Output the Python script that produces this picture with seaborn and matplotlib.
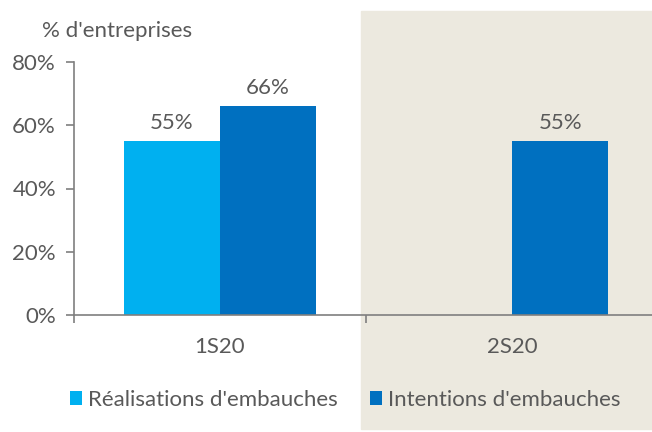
import numpy as np
import pandas as pd
import matplotlib
matplotlib.use("Agg")
import matplotlib.pyplot as plt
import seaborn as sns
from matplotlib.patches import Rectangle

categories = ["1S20", "2S20"]
realisations = [55, np.nan]
intentions = [66, 55]
series_names = ["Réalisations d'embauches", "Intentions d'embauches"]
yticks = [0, 20, 40, 60, 80]

sns.set_style("white")
plt.rcParams['font.family'] = ['Lato', 'DejaVu Sans']

df = pd.DataFrame({
    "cat": categories * 2,
    "serie": [series_names[0]] * 2 + [series_names[1]] * 2,
    "val": realisations + intentions,
})

W, H = 652, 432
FS = 16
fig = plt.figure(figsize=(W / 100, H / 100), dpi=100)
fig.patches.append(Rectangle((361 / W, 3 / H), 1 - 361 / W, 1 - 14 / H,
                             transform=fig.transFigure, color="#ECE9DF", zorder=-10))
ax = fig.add_axes([74 / W, 1 - 315 / H, 584 / W, 253 / H])
ax.patch.set_alpha(0)

grey = "#595959"
sns.barplot(data=df, x="cat", y="val", hue="serie", hue_order=series_names,
            palette=["#00B0F0", "#0070C0"], width=0.66, ax=ax, saturation=1,
            edgecolor="none")

for cont in ax.containers:
    labels = ["" if np.isnan(v) else f"{v:.0f}%" for v in cont.datavalues]
    ax.bar_label(cont, labels=labels, padding=6, color=grey, fontsize=FS)

ax.set_xlim(-0.5, 1.5)
ax.set_ylim(0, 80)
ax.set_yticks(yticks)
ax.set_yticklabels([f"{t}%" for t in yticks])
ax.set_xlabel("")
ax.set_ylabel("")
for s in ["top", "right"]:
    ax.spines[s].set_visible(False)
for s in ["left", "bottom"]:
    ax.spines[s].set_color("#7F7F7F")
    ax.spines[s].set_linewidth(1.2)
ax.tick_params(axis="y", left=True, length=6, width=1.2, color="#7F7F7F",
               labelcolor=grey, labelsize=FS, pad=7)
ax.tick_params(axis="x", which="major", bottom=False, labelcolor=grey, labelsize=FS, pad=12)
ax.set_xticks([-0.5, 0.5, 1.5], minor=True)
ax.tick_params(axis="x", which="minor", bottom=True, length=6, width=1.2, color="#7F7F7F")

fig.text(42 / W, 1 - 31 / H, "% d'entreprises", color=grey, fontsize=FS, va="center", ha="left")

leg = ax.legend(loc="center left", bbox_to_anchor=(70 / W, 1 - 400 / H),
                bbox_transform=fig.transFigure, ncol=2, frameon=False,
                fontsize=FS, handlelength=0.55, handleheight=0.55,
                handletextpad=0.27, columnspacing=1.45, labelcolor=grey,
                borderpad=0, borderaxespad=0)

fig.savefig("out.png", dpi=100)
